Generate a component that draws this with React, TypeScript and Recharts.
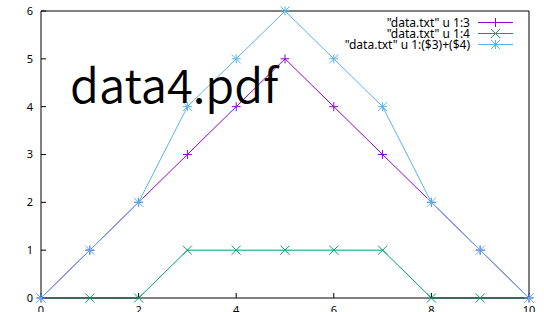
import { Line, LineChart, XAxis, YAxis } from "recharts";

const xValues = [0, 1, 2, 3, 4, 5, 6, 7, 8, 9, 10];
const col3 = [0, 1, 2, 3, 4, 5, 4, 3, 2, 1, 0];
const col4 = [0, 0, 0, 1, 1, 1, 1, 1, 0, 0, 0];
const xTicks = [0, 2, 4, 6, 8, 10];
const yTicks = [0, 1, 2, 3, 4, 5, 6];

const seriesNames = [
  '"data.txt" u 1:3',
  '"data.txt" u 1:4',
  '"data.txt" u 1:($3)+($4)',
];

const PURPLE = "#9400d3";
const GREEN = "#009e73";
const BLUE = "#56b4e9";

const data = xValues.map((x, i) => ({
  x,
  c3: col3[i],
  c4: col4[i],
  sum: col3[i] + col4[i],
}));

type Kind = "plus" | "cross" | "star";

function marker(kind: Kind, cx: number, cy: number, color: string, r = 4.5) {
  const plus = (
    <>
      <line x1={cx - r} y1={cy} x2={cx + r} y2={cy} stroke={color} />
      <line x1={cx} y1={cy - r} x2={cx} y2={cy + r} stroke={color} />
    </>
  );
  const cross = (
    <>
      <line x1={cx - r} y1={cy - r} x2={cx + r} y2={cy + r} stroke={color} />
      <line x1={cx - r} y1={cy + r} x2={cx + r} y2={cy - r} stroke={color} />
    </>
  );
  return (
    <g>
      {kind !== "cross" && plus}
      {kind !== "plus" && cross}
    </g>
  );
}

const makeDot = (kind: Kind, color: string) => (props: any) => {
  const { cx, cy, index } = props;
  return <g key={index}>{marker(kind, cx, cy, color)}</g>;
};

const legendRows: { kind: Kind; color: string }[] = [
  { kind: "plus", color: PURPLE },
  { kind: "cross", color: GREEN },
  { kind: "star", color: BLUE },
];

// gnuplot-style key, top right inside the plot box
function KeyBox() {
  return (
    <svg
      width={220}
      height={44}
      style={{ position: "absolute", left: 300, top: 10, pointerEvents: "none" }}
    >
      {legendRows.map((row, i) => {
        const y = 12.5 + i * 11;
        return (
          <g key={i}>
            <text
              x={170}
              y={y + 4}
              textAnchor="end"
              fontSize={12}
              fontFamily="'Noto Sans', sans-serif"
              fill="#000"
            >
              {seriesNames[i]}
            </text>
            <line x1={178} y1={y} x2={213} y2={y} stroke={row.color} />
            {marker(row.kind, 195.5, y, row.color)}
          </g>
        );
      })}
    </svg>
  );
}

const tickStyle = { fontSize: 11, fill: "#000", fontFamily: "'Noto Sans', sans-serif" };

export default function App() {
  return (
    <div style={{ position: "absolute", left: 0, top: 0, width: 544, height: 312, overflow: "hidden", background: "#fff" }}>
      <LineChart width={544} height={312} data={data} margin={{ top: 0, right: 0, bottom: 0, left: 0 }}>
        <XAxis
          dataKey="x"
          type="number"
          domain={[0, 10]}
          ticks={xTicks}
          height={14}
          tickSize={-5}
          tickMargin={13}
          stroke="#000"
          tick={tickStyle}
        />
        <XAxis
          xAxisId="top"
          orientation="top"
          dataKey="x"
          type="number"
          domain={[0, 10]}
          ticks={xTicks}
          height={11}
          tickSize={-5}
          stroke="#000"
          tick={false}
        />
        <YAxis
          type="number"
          domain={[0, 6]}
          ticks={yTicks}
          width={41}
          tickSize={-5}
          tickMargin={13}
          stroke="#000"
          tick={tickStyle}
        />
        <YAxis
          yAxisId="right"
          orientation="right"
          type="number"
          domain={[0, 6]}
          ticks={yTicks}
          width={15}
          tickSize={-5}
          stroke="#000"
          tick={false}
        />
        <Line
          dataKey="c3"
          stroke={PURPLE}
          strokeWidth={1}
          dot={makeDot("plus", PURPLE)}
          activeDot={false}
          isAnimationActive={false}
        />
        <Line
          dataKey="c4"
          stroke={GREEN}
          strokeWidth={1}
          dot={makeDot("cross", GREEN)}
          activeDot={false}
          isAnimationActive={false}
        />
        <Line
          dataKey="sum"
          stroke={BLUE}
          strokeWidth={1}
          dot={makeDot("star", BLUE)}
          activeDot={false}
          isAnimationActive={false}
        />
      </LineChart>
      <KeyBox />
      <div
        style={{
          position: "absolute",
          left: 70,
          top: 49,
          fontFamily: "'Noto Sans CJK JP', sans-serif",
          fontWeight: 350,
          fontSize: 47,
          lineHeight: "68px",
          color: "#000",
          pointerEvents: "none",
        }}
      >
        data4.pdf
      </div>
    </div>
  );
}
